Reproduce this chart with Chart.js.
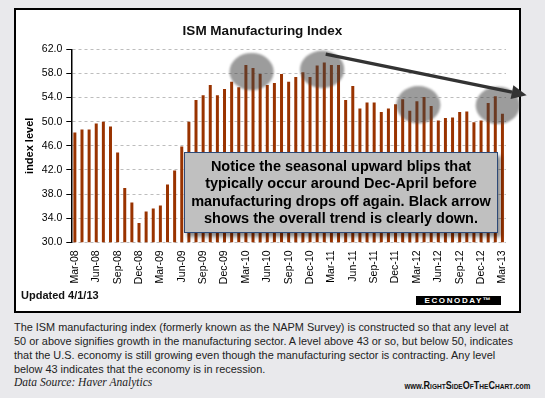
<!DOCTYPE html>
<html>
<head>
<meta charset="utf-8">
<script src="https://cdn.jsdelivr.net/npm/chart.js@4"></script>
<style>
  body { margin: 0; width: 545px; height: 398px; background: #e9e9ec; position: relative; overflow: hidden;
         font-family: "Liberation Sans", Arial, sans-serif; }
  #frame { position: absolute; left: 13.5px; top: 8px; width: 507.5px; height: 305px; box-sizing: border-box;
           border: 2px solid #000; background: #fff; }
  #wrap { position: absolute; left: 0; top: 0; width: 545px; height: 320px; }
  #note { position: absolute; left: 184px; top: 152px; width: 314px; height: 81px; box-sizing: border-box;
          background: #c0c0c0; border: 1.5px solid #2d4a78; box-shadow: 3px 4px 4px rgba(0,0,0,0.45);
          font: bold 14.5px "Liberation Sans", Arial, sans-serif; color: #000; text-align: center;
          line-height: 17.4px; padding-top: 5px; white-space: nowrap; }
  #updated { position: absolute; left: 21px; top: 289px; font: bold 11px "Liberation Sans", Arial, sans-serif; color: #111; }
  #logo { position: absolute; left: 416px; top: 296px; width: 85px; height: 9px; background: #000; color: #fff;
          font: bold 8px "Liberation Sans", Arial, sans-serif; letter-spacing: 1.6px; line-height: 9px; text-align: center; }
  #caption { position: absolute; left: 14px; top: 320px; font-size: 10.9px; line-height: 14.1px; color: #222; white-space: nowrap; }
  #source { position: absolute; left: 14px; top: 376px; font: italic 11.5px "Liberation Serif", "Times New Roman", serif; color: #222; }
  #site { position: absolute; right: 15px; top: 379px; font: bold 9px "Liberation Sans", Arial, sans-serif; color: #111;
          transform: scaleX(0.82); transform-origin: right center; white-space: nowrap; }
  #site .sc { font-variant: small-caps; font-size: 11px; }
</style>
</head>
<body>
<div id="frame"></div>
<div id="wrap"><canvas id="chart" width="545" height="320"></canvas></div>
<div id="note">Notice the seasonal upward blips that<br>typically occur around Dec-April before<br>manufacturing drops off again. Black arrow<br>shows the overall trend is clearly down.</div>
<div id="updated">Updated 4/1/13</div>
<div id="logo">ECONODAY™</div>
<div id="caption">The ISM manufacturing index (formerly known as the NAPM Survey) is constructed so that any level at<br>50 or above signifies growth in the manufacturing sector. A level above 43 or so, but below 50, indicates<br>that the U.S. economy is still growing even though the manufacturing sector is contracting. Any level<br>below 43 indicates that the economy is in recession.</div>
<div id="source">Data Source: Haver Analytics</div>
<div id="site">www.<span class="sc">RightSideOfTheChart</span>.com</div>
<script>
const months = [
  'Mar-08','Apr-08','May-08','Jun-08','Jul-08','Aug-08','Sep-08','Oct-08','Nov-08','Dec-08','Jan-09','Feb-09',
  'Mar-09','Apr-09','May-09','Jun-09','Jul-09','Aug-09','Sep-09','Oct-09','Nov-09','Dec-09','Jan-10','Feb-10',
  'Mar-10','Apr-10','May-10','Jun-10','Jul-10','Aug-10','Sep-10','Oct-10','Nov-10','Dec-10','Jan-11','Feb-11',
  'Mar-11','Apr-11','May-11','Jun-11','Jul-11','Aug-11','Sep-11','Oct-11','Nov-11','Dec-11','Jan-12','Feb-12',
  'Mar-12','Apr-12','May-12','Jun-12','Jul-12','Aug-12','Sep-12','Oct-12','Nov-12','Dec-12','Jan-13','Feb-13',
  'Mar-13'
];
const ismIndex = [
  48.2, 48.7, 48.7, 49.7, 50.0, 49.2, 44.9, 39.0, 36.6, 33.2, 35.1, 35.6,
  36.1, 39.6, 41.9, 45.9, 50.0, 53.6, 54.4, 56.1, 54.4, 55.4, 56.6, 55.7,
  59.4, 58.9, 57.9, 56.1, 56.4, 57.9, 56.6, 57.4, 58.2, 57.4, 59.3, 59.8,
  59.4, 59.4, 53.6, 55.9, 52.2, 53.2, 53.2, 51.6, 52.2, 52.9, 53.7, 51.8,
  53.4, 54.1, 52.6, 50.2, 50.6, 50.7, 51.6, 51.7, 49.9, 50.2, 53.1, 54.2,
  51.3
];
const yTicks = [30, 34, 38, 42, 46, 50, 54, 58, 62];

// highlight circles and trend arrow, in data space (category index, index level)
const blips = [[24.8, 58.3], [34.7, 58.65], [48.2, 52.8], [59.35, 52.7]];
const trendArrow = [[35.2, 61.2], [63.4, 54.4]];

const FONT = '"Liberation Sans", Arial, sans-serif';

const overlay = {
  id: 'overlay',
  afterDatasetsDraw(chart) {
    const { ctx, scales: { x, y } } = chart;
    const catW = x.getPixelForValue(1) - x.getPixelForValue(0);
    const unitH = y.getPixelForValue(30) - y.getPixelForValue(31);
    ctx.save();
    ctx.filter = 'blur(0.8px)';
    ctx.fillStyle = 'rgba(66,66,66,0.52)';
    blips.forEach(([i, v]) => {
      ctx.beginPath();
      ctx.ellipse(x.getPixelForValue(i), y.getPixelForValue(v), catW * 3.1, unitH * 3.1, 0, 0, Math.PI * 2);
      ctx.fill();
    });
    ctx.filter = 'none';

    const x1 = x.getPixelForValue(trendArrow[0][0]), y1 = y.getPixelForValue(trendArrow[0][1]);
    const x2 = x.getPixelForValue(trendArrow[1][0]), y2 = y.getPixelForValue(trendArrow[1][1]);
    const ang = Math.atan2(y2 - y1, x2 - x1);
    const headLen = 15, headW = 7;
    const bx = x2 - headLen * Math.cos(ang), by = y2 - headLen * Math.sin(ang);
    ctx.strokeStyle = '#333';
    ctx.fillStyle = '#333';
    ctx.lineWidth = 3.5;
    ctx.beginPath();
    ctx.moveTo(x1, y1);
    ctx.lineTo(bx, by);
    ctx.stroke();
    ctx.beginPath();
    ctx.moveTo(x2, y2);
    ctx.lineTo(bx + headW * Math.sin(ang), by - headW * Math.cos(ang));
    ctx.lineTo(bx - headW * Math.sin(ang), by + headW * Math.cos(ang));
    ctx.closePath();
    ctx.fill();
    ctx.restore();
  }
};

new Chart(document.getElementById('chart'), {
  type: 'bar',
  data: {
    labels: months,
    datasets: [{
      data: ismIndex,
      backgroundColor: '#993300',
      borderWidth: 0,
      barPercentage: 0.42,
      categoryPercentage: 1.0
    }]
  },
  options: {
    responsive: false,
    animation: false,
    layout: { padding: { left: 19, right: 39, top: 0, bottom: 0 } },
    plugins: {
      legend: { display: false },
      tooltip: { enabled: false },
      title: {
        display: true,
        text: 'ISM Manufacturing Index',
        color: '#111',
        font: { family: FONT, size: 13.5, weight: 'bold' },
        padding: { top: 22.7, bottom: 10.4 }
      }
    },
    scales: {
      x: {
        grid: { display: false, drawTicks: false },
        border: { display: false },
        afterFit: s => { s.height = 77.7; },
        ticks: {
          autoSkip: false,
          maxRotation: 90,
          minRotation: 90,
          padding: 8,
          color: '#000',
          font: { family: FONT, size: 10.5 },
          callback: (v, i) => (i % 3 === 0 ? months[i] : '')
        }
      },
      y: {
        min: yTicks[0],
        max: yTicks[yTicks.length - 1],
        afterFit: s => { s.width = 52.3; },
        afterBuildTicks: s => { s.ticks = yTicks.map(v => ({ value: v })); },
        grid: { color: '#bdbdbd', tickColor: '#000', tickLength: 5, lineWidth: 1 },
        border: { display: true, color: '#000', width: 1.5, dash: [3, 3] },
        ticks: {
          padding: 4,
          color: '#000',
          font: { family: FONT, size: 10.5 },
          callback: v => v.toFixed(1)
        },
        title: {
          display: true,
          text: 'index level',
          color: '#000',
          font: { family: FONT, size: 11, weight: 'bold' }
        }
      }
    }
  },
  plugins: [overlay]
});
</script>
</body>
</html>
